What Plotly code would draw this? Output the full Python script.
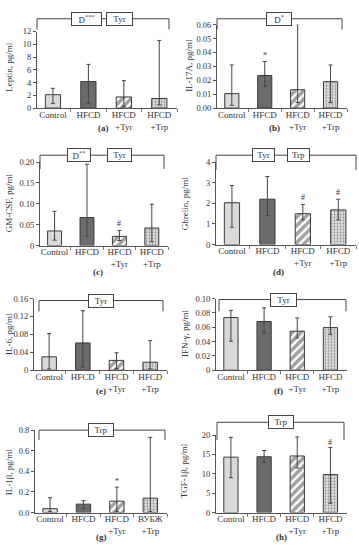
import plotly.graph_objects as go

W, H = 359, 550
FONT = "Liberation Serif"
TXT = "#333333"

# ---------------- data ----------------
categories = ["Control", "HFCD", "HFCD<br>+Tyr", "HFCD<br>+Trp"]
categories_g = ["Control", "HFCD", "HFCD<br>+Tyr", "ВУБЖ<br>+Trp"]

leptin = [2.1, 4.15, 1.74, 1.5]
leptin_hi = [3.1, 6.85, 4.3, 10.6]
leptin_lo = [0.7, 0.7, 0.3, 0.5]

il17a = [0.0104, 0.0234, 0.0132, 0.019]
il17a_hi = [0.031, 0.0335, 0.060, 0.031]
il17a_lo = [0.002, 0.0156, 0.004, 0.004]

gmcsf = [0.035, 0.067, 0.022, 0.042]
gmcsf_hi = [0.082, 0.195, 0.036, 0.099]
gmcsf_lo = [0.013, 0.023, 0.012, 0.009]

ghrelin = [2.03, 2.2, 1.5, 1.68]
ghrelin_hi = [2.86, 3.3, 1.95, 2.2]
ghrelin_lo = [0.84, 1.4, 1.2, 1.2]

il6 = [0.030, 0.061, 0.022, 0.018]
il6_hi = [0.082, 0.133, 0.039, 0.066]
il6_lo = [0.003, 0.007, 0.004, 0.003]

ifng = [0.0735, 0.068, 0.0545, 0.0595]
ifng_hi = [0.0835, 0.087, 0.0730, 0.0745]
ifng_lo = [0.0405, 0.052, 0.045, 0.050]

il1b = [0.038, 0.082, 0.111, 0.14]
il1b_hi = [0.145, 0.115, 0.247, 0.73]
il1b_lo = [0.010, 0.041, 0.010, 0.010]

tgfb = [14.3, 14.4, 14.6, 9.8]
tgfb_hi = [19.4, 16.0, 19.5, 16.8]
tgfb_lo = [9.0, 13.0, 11.5, 2.4]

# significance marks: (category index, y value, symbol)
marks_b = [(1, 0.038, "*")]
marks_c = [(2, 0.054, "#")]
marks_d = [(2, 2.3, "#"), (3, 2.52, "#")]
marks_g = [(2, 0.305, "*")]
marks_h = [(3, 18.0, "#")]

# ---------------- layout helpers ----------------
def px(x):
    return x / W

def py(y):
    return 1 - y / H

fill_colors = ["#d9d9d9", "#6b6b6b", "#ffffff", "#ececec"]
pat_shapes = ["", "", "/", "."]
pat_fg = ["#d9d9d9", "#6b6b6b", "#000000", "#9a9a9a"]

panels = [
    dict(cats=categories, v=leptin, hi=leptin_hi, lo=leptin_lo, title="Leptin, pg/ml",
         tv=[0, 2, 4, 6, 8, 10, 12], tt=["0", "2", "4", "6", "8", "10", "12"], rng=[0, 12],
         dom=(37, 177, 27, 105), lab="(a)", labpos=(103, 125), ytit=(9, 64),
         br=(37, 169, 14, 25), boxes=[("D<sup>***</sup>", 86, 27), ("Tyr", 119, 23)], marks=[]),
    dict(cats=categories, v=il17a, hi=il17a_hi, lo=il17a_lo, title="IL-17A, pg/ml",
         tv=[0, 0.01, 0.02, 0.03, 0.04, 0.05, 0.06],
         tt=["0.00", "0.01", "0.02", "0.03", "0.04", "0.05", "0.06"], rng=[0, 0.06],
         dom=(217, 347, 20, 105), lab="(b)", labpos=(274, 125), ytit=(189, 62),
         br=(217, 342, 14, 25), boxes=[("D<sup>*</sup>", 279, 22)], marks=marks_b),
    dict(cats=categories, v=gmcsf, hi=gmcsf_hi, lo=gmcsf_lo, title="GM-CSF, pg/ml",
         tv=[0, 0.05, 0.10, 0.15, 0.20], tt=["0", "0.05", "0.10", "0.15", "0.20"], rng=[0, 0.20],
         dom=(40, 168, 160, 245), lab="(c)", labpos=(98, 272), ytit=(9, 202),
         br=(40, 164, 153, 167), boxes=[("D<sup>**</sup>", 79, 20), ("Tyr", 119, 21)], marks=marks_c),
    dict(cats=categories, v=ghrelin, hi=ghrelin_hi, lo=ghrelin_lo, title="Ghrelin, pg/ml",
         tv=[0, 1, 2, 3, 4], tt=["0", "1", "2", "3", "4"], rng=[0, 4],
         dom=(216, 356, 160, 244), lab="(d)", labpos=(278, 272), ytit=(185, 203),
         br=(216, 356, 153, 168), boxes=[("Tyr", 263, 19), ("Trp", 298, 19)], marks=marks_d),
    dict(cats=categories, v=il6, hi=il6_hi, lo=il6_lo, title="IL-6, pg/ml",
         tv=[0, 0.04, 0.08, 0.12, 0.16], tt=["0", "0.04", "0.08", "0.12", "0.16"], rng=[0, 0.16],
         dom=(34, 167, 299, 372), lab="(e)", labpos=(101, 393), ytit=(9, 335),
         br=(39, 163, 301, 312), boxes=[("Tyr", 101, 22)], marks=[]),
    dict(cats=categories, v=ifng, hi=ifng_hi, lo=ifng_lo, title="IFN-γ, pg/ml",
         tv=[0, 0.02, 0.04, 0.06, 0.08, 0.10], tt=["0", "0.02", "0.04", "0.06", "0.08", "0.10"],
         rng=[0, 0.10],
         dom=(216, 347, 299, 372), lab="(f)", labpos=(278, 393), ytit=(185, 335),
         br=(219, 346, 300, 312), boxes=[("Tyr", 283, 23)], marks=[]),
    dict(cats=categories_g, v=il1b, hi=il1b_hi, lo=il1b_lo, title="IL-1β, pg/ml",
         tv=[0, 0.2, 0.4, 0.6, 0.8], tt=["0.0", "0.2", "0.4", "0.6", "0.8"], rng=[0, 0.8],
         dom=(35, 167, 433, 517), lab="(g)", labpos=(101, 542), ytit=(9, 476),
         br=(39, 165, 433, 443), boxes=[("Trp", 101, 22)], marks=marks_g),
    dict(cats=categories, v=tgfb, hi=tgfb_hi, lo=tgfb_lo, title="TGF-1β, pg/ml",
         tv=[0, 5, 10, 15, 20], tt=["0", "5", "10", "15", "20"], rng=[0, 20],
         dom=(216, 347, 438, 517), lab="(h)", labpos=(281, 542), ytit=(184, 475),
         br=(217, 344, 425, 443), boxes=[("Trp", 281, 22)], marks=marks_h),
]

fig = go.Figure()
layout = dict(
    width=W, height=H, margin=dict(l=0, r=0, t=0, b=0),
    paper_bgcolor="white", plot_bgcolor="white", showlegend=False,
    font=dict(family=FONT, size=9, color=TXT),
)
shapes = []
annotations = []

for i, p in enumerate(panels):
    n = i + 1
    xa = "x" if n == 1 else f"x{n}"
    ya = "y" if n == 1 else f"y{n}"
    xkey = "xaxis" if n == 1 else f"xaxis{n}"
    ykey = "yaxis" if n == 1 else f"yaxis{n}"
    x0, x1, yt, yb = p["dom"]
    up = [h - v for h, v in zip(p["hi"], p["v"])]
    dn = [v - l for v, l in zip(p["v"], p["lo"])]
    fig.add_trace(go.Bar(
        x=p["cats"], y=p["v"], width=0.43, xaxis=xa, yaxis=ya,
        marker=dict(color=fill_colors, line=dict(color="#3a3a3a", width=1),
                    pattern=dict(shape=pat_shapes, fgcolor=pat_fg,
                                 size=[6, 6, 6, 3], solidity=[0.3, 0.3, 0.6, 0.45])),
        error_y=dict(type="data", symmetric=False, array=up, arrayminus=dn,
                     color="#444444", thickness=1, width=2),
        hoverinfo="skip",
    ))
    layout[xkey] = dict(
        domain=[px(x0), px(x1)], anchor=ya, type="category", range=[-0.45, 3.5],
        showline=True, linecolor="#555555", linewidth=1, ticks="outside", tickson="boundaries",
        ticklen=3, tickcolor="#777777", showgrid=False, zeroline=False, tickangle=0,
        ticklabelstandoff=-2,
        tickfont=dict(family=FONT, size=9, color=TXT), fixedrange=True,
    )
    layout[ykey] = dict(
        domain=[py(yb), py(yt)], anchor=xa, range=p["rng"], tickvals=p["tv"], ticktext=p["tt"],
        showline=True, linecolor="#555555", linewidth=1, ticks="outside", ticklen=3,
        tickcolor="#555555", showgrid=False, zeroline=False,
        tickfont=dict(family=FONT, size=8.5, color=TXT), fixedrange=True,
    )
    annotations.append(dict(text=p["title"], x=px(p["ytit"][0]), y=py(p["ytit"][1]),
                            xref="paper", yref="paper", showarrow=False, textangle=-90,
                            xanchor="center", yanchor="middle",
                            font=dict(family=FONT, size=9, color=TXT)))
    annotations.append(dict(text="<b>" + p["lab"] + "</b>", x=px(p["labpos"][0]),
                            y=py(p["labpos"][1]), xref="paper", yref="paper", showarrow=False,
                            xanchor="center", yanchor="middle",
                            font=dict(family=FONT, size=9, color=TXT)))
    bl, br_, by, be = p["br"]
    lc = dict(color="#444444", width=1)
    shapes.append(dict(type="line", xref="paper", yref="paper", x0=px(bl), x1=px(br_),
                       y0=py(by), y1=py(by), line=lc))
    shapes.append(dict(type="line", xref="paper", yref="paper", x0=px(bl), x1=px(bl),
                       y0=py(by), y1=py(be), line=lc))
    shapes.append(dict(type="line", xref="paper", yref="paper", x0=px(br_), x1=px(br_),
                       y0=py(by), y1=py(be), line=lc))
    for txt, cx, wbox in p["boxes"]:
        annotations.append(dict(text=txt, x=px(cx), y=py(by), xref="paper", yref="paper",
                                showarrow=False, xanchor="center", yanchor="middle",
                                width=wbox, height=10, bgcolor="white",
                                bordercolor="#444444", borderwidth=1, borderpad=1,
                                font=dict(family=FONT, size=9, color=TXT)))
    for ci, yv, sym in p["marks"]:
        annotations.append(dict(text=sym, x=p["cats"][ci], y=yv, xref=xa, yref=ya,
                                showarrow=False, xanchor="center", yanchor="middle",
                                font=dict(family=FONT, size=8, color=TXT)))

layout["shapes"] = shapes
layout["annotations"] = annotations
fig.update_layout(**layout)
fig.write_html("out.html", config={"displayModeBar": False, "staticPlot": True},
               post_script="document.body.style.margin='0';")
